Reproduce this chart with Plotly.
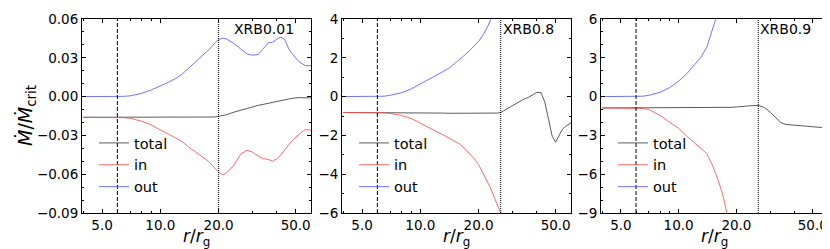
import math
import plotly.graph_objects as go

# ---------------- data ----------------
panel_labels = ["XRB0.01", "XRB0.8", "XRB0.9"]
series_names = ["total", "in", "out"]
x_title = "<i>r</i>/<i>r</i><sub>g</sub>"
y_title = "<i>Ṁ</i>/<i>Ṁ</i><sub>crit</sub>"
r_isco = [6, 6, 6]          # dashed vertical line
r_dotted = [20, 26, 26]     # dotted vertical line

r1 = [4, 5, 6, 6.5, 7, 8, 9, 10, 11, 12, 13, 14, 15, 16, 17, 18, 19, 20, 21, 22,
      24, 26, 28, 30, 32, 34, 36, 38, 40, 42, 44, 46, 48, 52, 56, 60]
out1 = [0, 0, 0, 0.0002, 0.0006, 0.0025, 0.0052, 0.008, 0.011, 0.014, 0.0175, 0.022, 0.026,
        0.030, 0.033, 0.037, 0.041, 0.044, 0.0452, 0.0445,
        0.041, 0.0365, 0.033, 0.032, 0.0325, 0.037, 0.0415, 0.042, 0.0445, 0.046, 0.044, 0.037,
        0.033, 0.027, 0.024, 0.0238]
in1 = [-0.016, -0.016, -0.016, -0.0163, -0.0168, -0.019, -0.022, -0.026, -0.029, -0.032, -0.035,
       -0.039, -0.042, -0.045, -0.048, -0.051, -0.055, -0.0585, -0.0605, -0.059,
       -0.053, -0.0445, -0.0415, -0.043, -0.046, -0.048, -0.0485, -0.050, -0.048, -0.045, -0.041,
       -0.037, -0.034, -0.029, -0.0255, -0.026]
total1 = [-0.016, -0.016, -0.016, -0.016, -0.016, -0.016, -0.016, -0.016, -0.016, -0.016, -0.016,
          -0.016, -0.016, -0.016, -0.016, -0.016, -0.0158, -0.0152, -0.0148, -0.014,
          -0.012, -0.0105, -0.009, -0.0078, -0.0068, -0.006, -0.0052, -0.0044, -0.0036, -0.003,
          -0.0025, -0.002, -0.0013, -0.0008, -0.0008, -0.001]

r2 = [4, 5, 6, 6.5, 7, 8, 9, 10, 11, 12, 13, 14, 15, 16, 17, 18, 19, 20, 21, 22, 23, 24,
      25, 26, 27, 28, 30, 32, 34, 36, 38, 40, 42, 44, 46, 48, 50, 52, 54, 56, 58, 60]
out2 = [0, 0, 0, 0.02, 0.07, 0.2, 0.4, 0.65, 0.87, 1.05, 1.25, 1.45, 1.7, 1.92, 2.15, 2.38, 2.6,
        2.85, 3.15, 3.5, 3.93, 4.4, 4.9, 5.4, 6.0, 6.6, None, None, None, None, None, None, None,
        None, None, None, None, None, None, None, None, None]
in2 = [-0.82, -0.82, -0.82, -0.84, -0.87, -0.97, -1.13, -1.38, -1.6, -1.78, -1.95, -2.12, -2.3,
       -2.45, -2.7, -2.95, -3.2, -3.5, -3.9, -4.3, -4.7, -5.15, -5.55, -5.95, -6.4, -6.9, None,
       None, None, None, None, None, None, None, None, None, None, None, None, None, None, None]
total2 = [-0.82, -0.82, -0.82, -0.82, -0.82, -0.83, -0.83, -0.84, -0.84, -0.85, -0.85, -0.86,
          -0.86, -0.87, -0.87, -0.88, -0.88, -0.88, -0.88, -0.88, -0.88, -0.87, -0.85, -0.82,
          -0.72, -0.62, -0.45, -0.3, -0.15, -0.05, 0.1, 0.22, 0.2, -0.3, -1.2, -2.05, -2.35, -2.0,
          -1.7, -1.55, -1.45, -1.35]

r3 = [4, 5, 6, 6.5, 7, 8, 9, 10, 11, 12, 13, 14, 15, 16, 17, 18, 19, 20, 22, 24, 26, 28, 30,
      32, 34, 36, 40, 45, 50, 55, 60]
out3 = [0, 0, 0, 0.03, 0.1, 0.33, 0.7, 1.2, 1.75, 2.4, 3.0, 3.8, 5.1, 6.5, None, None, None,
        None, None, None, None, None, None, None, None, None, None, None, None, None, None]
in3 = [-0.88, -0.88, -0.88, -0.92, -1.0, -1.45, -2.0, -2.45, -3.05, -3.55, -3.95, -4.4, -5.3,
       -6.4, -7.6, -9.3, None, None, None, None, None, None, None, None, None, None, None, None,
       None, None, None]
total3 = [-0.88, -0.88, -0.88, -0.88, -0.88, -0.88, -0.88, -0.88, -0.88, -0.87, -0.87, -0.87,
          -0.86, -0.86, -0.86, -0.85, -0.83, -0.8, -0.72, -0.7, -0.68, -0.85, -1.2, -1.6, -2.0,
          -2.15, -2.2, -2.25, -2.3, -2.38, -2.43]

y_ranges = [[-0.09, 0.06], [-6, 4], [-9, 6]]
y_dticks = [0.03, 2, 3]
y_minor = [0.01, 1, 1]
y_formats = [".2f", "d", "d"]
x_tickvals = [5, 10, 20, 50]
x_ticktext = ["5.0", "10.0", "20.0", "50.0"]
x_minorvals = [4, 6, 7, 8, 9, 30, 40, 60]

# ---------------- styling ----------------
W, H = 830, 249
panel_px = [(74, 303), (334, 563), (593, 820)]
top_px, bot_px = 11, 205
colors = {"total": "rgba(50,50,50,0.8)", "in": "rgba(255,80,80,0.85)", "out": "rgba(90,90,255,0.85)"}
FONT = "DejaVu Sans"
legend_left_px = [86, 346, 605]
legend_top_px = 119

data = [
    (r1, total1, in1, out1),
    (r2, total2, in2, out2),
    (r3, total3, in3, out3),
]

fig = go.Figure()
for i, (r, tot, inn, out) in enumerate(data):
    sfx = "" if i == 0 else str(i + 1)
    leg = "legend" if i == 0 else f"legend{i + 1}"
    for name, ys in zip(series_names, (tot, inn, out)):
        fig.add_trace(go.Scatter(
            x=r, y=ys, mode="lines", name=name,
            line=dict(color=colors[name], width=1),
            xaxis="x" + sfx, yaxis="y" + sfx, legend=leg,
            connectgaps=False,
        ))

layout = dict(
    width=W, height=H,
    margin=dict(l=0, r=0, t=0, b=0),
    paper_bgcolor="white", plot_bgcolor="white",
    font=dict(family=FONT, size=13.5, color="black"),
    showlegend=True,
)
annotations = []
shapes = []
ydom = [(H - bot_px) / H, (H - top_px) / H]
for i in range(3):
    sfx = "" if i == 0 else str(i + 1)
    x0, x1 = panel_px[i]
    axx = dict(
        domain=[x0 / W, x1 / W], anchor="y" + sfx, type="log",
        range=[math.log10(3.94), math.log10(60)],
        tickvals=x_tickvals, ticktext=x_ticktext,
        ticks="inside", ticklen=4, tickwidth=1, tickcolor="black",
        showline=True, linecolor="black", linewidth=1, mirror="allticks",
        showgrid=False, zeroline=False,
        minor=dict(tickvals=x_minorvals, ticks="inside", ticklen=2, tickcolor="black", showgrid=False),
        tickfont=dict(size=13.5),
        automargin=False,
    )
    axy = dict(
        domain=ydom, anchor="x" + sfx, range=y_ranges[i], dtick=y_dticks[i], tick0=0,
        tickformat=y_formats[i],
        ticks="inside", ticklen=4, tickwidth=1, tickcolor="black",
        showline=True, linecolor="black", linewidth=1, mirror="allticks",
        showgrid=False, zeroline=False,
        minor=dict(dtick=y_minor[i], tick0=0, ticks="inside", ticklen=2, tickcolor="black", showgrid=False),
        tickfont=dict(size=13.5),
        automargin=False,
    )
    layout["xaxis" + sfx] = axx
    layout["yaxis" + sfx] = axy
    # x-axis title
    annotations.append(dict(
        text=x_title, xref=f"x{sfx} domain", yref="paper",
        x=0.5, y=(H - 229.5) / H, xanchor="center", yanchor="middle", showarrow=False,
        font=dict(size=17, color="black"), borderpad=0,
    ))
    annotations.append(dict(
        text=panel_labels[i], xref=f"x{sfx} domain", yref=f"y{sfx} domain",
        x=0.935, y=1.0, xanchor="right", yanchor="top", showarrow=False,
        font=dict(size=14, color="black"),
    ))
    shapes.append(dict(type="line", xref="x" + sfx, yref=f"y{sfx} domain",
                       x0=r_isco[i], x1=r_isco[i], y0=0, y1=1,
                       line=dict(color="black", width=1, dash="4px,2px")))
    shapes.append(dict(type="line", xref="x" + sfx, yref=f"y{sfx} domain",
                       x0=r_dotted[i], x1=r_dotted[i], y0=0, y1=1,
                       line=dict(color="black", width=1, dash="1px,1px")))
    legkey = "legend" if i == 0 else f"legend{i + 1}"
    layout[legkey] = dict(
        x=legend_left_px[i] / W, y=(H - legend_top_px) / H, xanchor="left", yanchor="top",
        bgcolor="rgba(0,0,0,0)", borderwidth=0, font=dict(size=14.5, color="black"),
        tracegroupgap=0,
    )
# y-axis title (left panel only)
annotations.append(dict(
    text=y_title, xref="paper", yref="paper", x=19 / W, y=(H - 108) / H,
    xanchor="center", yanchor="middle", textangle=-90, showarrow=False,
    font=dict(size=19, color="black"),
))
layout["annotations"] = annotations
layout["shapes"] = shapes
fig.update_layout(**layout)
fig.write_html("out.html")
